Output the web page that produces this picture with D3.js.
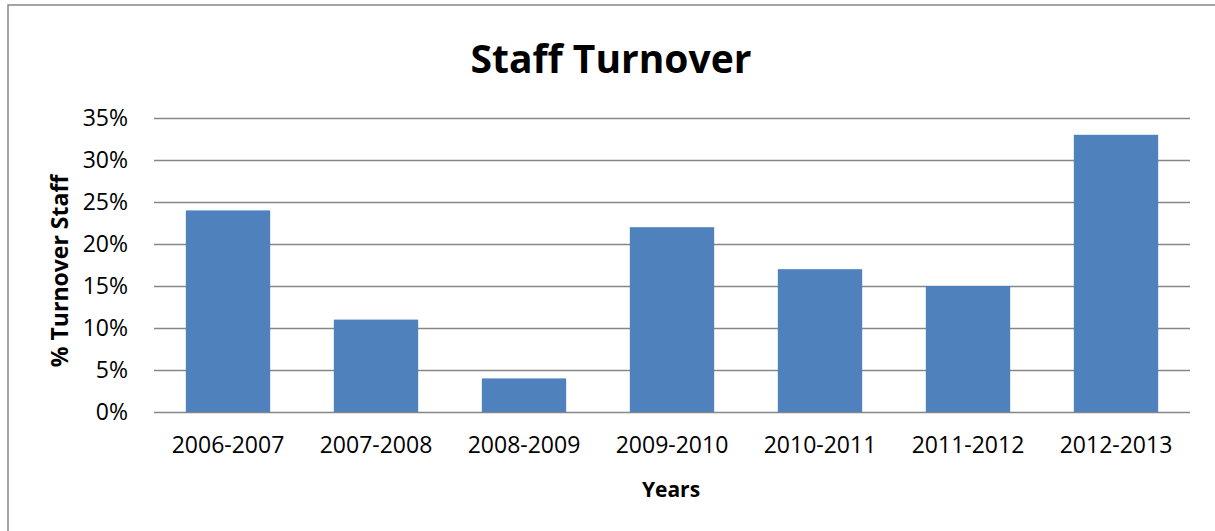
<!DOCTYPE html>
<html>
<head>
<meta charset="utf-8">
<title>Staff Turnover</title>
<script src="https://d3js.org/d3.v7.min.js"></script>
<style>
  body { margin: 0; background: #fff; }
  text { font-family: 'Open Sans', sans-serif; fill: #000; }
  .tick text { font-size: 23px; }
  .title { font-size: 39px; font-weight: 700; }
  .axis-title { font-size: 21px; font-weight: 700; }
</style>
</head>
<body>
<script>
  // data
  const years = ['2006-2007', '2007-2008', '2008-2009', '2009-2010', '2010-2011', '2011-2012', '2012-2013'];
  const turnover = [0.24, 0.11, 0.04, 0.22, 0.17, 0.15, 0.33];
  const yTicks = [0, 0.05, 0.10, 0.15, 0.20, 0.25, 0.30, 0.35];

  const width = 1215, height = 531;
  const plot = {left: 154, right: 1190, top: 118, bottom: 412};

  const svg = d3.select('body').append('svg').attr('width', width).attr('height', height);

  // chart border (only left and top visible in the frame)
  svg.append('rect').attr('x', 8).attr('y', 5).attr('width', 1240).attr('height', 560)
     .attr('fill', 'none').attr('stroke', '#868686').attr('stroke-width', 1.5);

  let x = d3.scaleBand().domain(years).range([plot.left, plot.right]).paddingInner(0.43).paddingOuter(0.215);
  let y = d3.scaleLinear().domain([0, 0.35]).range([plot.bottom, plot.top]);

  // gridlines + y axis labels
  let yAxis = svg.append('g').attr('transform', 'translate(' + plot.left + ',0)')
     .call(d3.axisLeft(y).tickValues(yTicks).tickFormat(d3.format('.0%')).tickSize(-(plot.right - plot.left)).tickPadding(26));
  yAxis.select('.domain').remove();
  yAxis.selectAll('.tick line').attr('stroke', '#868686').attr('stroke-width', 1.5);

  // bars
  svg.append('g').selectAll('rect').data(turnover).enter().append('rect')
     .attr('x', (d, i) => x(years[i]))
     .attr('y', d => y(d))
     .attr('width', x.bandwidth())
     .attr('height', d => y(0) - y(d))
     .attr('fill', '#4F81BD');

  // x axis
  let xAxis = svg.append('g').attr('transform', 'translate(0,' + plot.bottom + ')')
     .call(d3.axisBottom(x).tickSize(0).tickPadding(25));
  xAxis.select('.domain').remove();

  // titles
  svg.append('text').classed('title', true).attr('x', 611).attr('y', 73).attr('text-anchor', 'middle').text('Staff Turnover');
  svg.append('text').classed('axis-title', true).attr('x', 671).attr('y', 497).attr('text-anchor', 'middle').text('Years');
  svg.append('text').classed('axis-title', true).style('font-size', '23px').attr('transform', 'translate(68,271) rotate(-90)')
     .attr('text-anchor', 'middle').text('% Turnover Staff');
</script>
</body>
</html>
